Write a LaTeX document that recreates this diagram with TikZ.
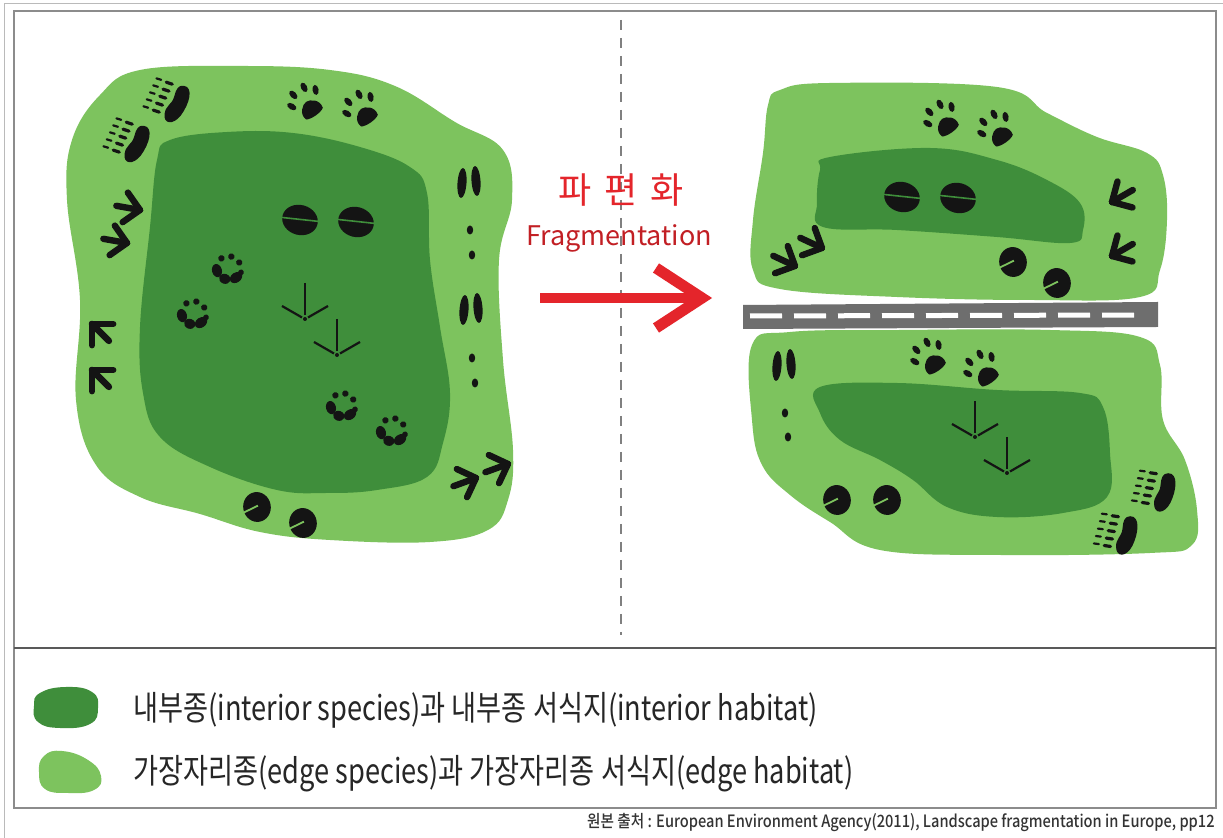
\documentclass[tikz,border=0pt]{standalone}
\usepackage{fontspec}
\newfontfamily\krfont{Noto Sans CJK KR}
\newfontfamily\krcond[FakeStretch=0.8]{Noto Sans CJK KR}
\newfontfamily\krsmall[FakeStretch=0.86]{Noto Sans CJK KR Medium}
\definecolor{edgegreen}{HTML}{7DC35E}
\definecolor{coregreen}{HTML}{3F8E3B}
\definecolor{trackink}{HTML}{141414}
\definecolor{alertred}{HTML}{E4252B}
\definecolor{roadgray}{HTML}{6E6E6E}
\definecolor{framegray}{HTML}{8C8C8C}

\tikzset{
  edgearea/.style={fill=edgegreen},
  corearea/.style={fill=coregreen},
  % dog / fox paw, toes pointing up
  pics/dogpaw/.style={code={
    \fill[trackink] (-7,9) .. controls (-9,3) and (-3,-1) .. (0,-1)
      .. controls (3,-1) and (9,3) .. (7,9) .. controls (4,11) and (-4,11) .. cycle;
    \fill[trackink,rotate around={25:(-10,-4)}] (-10,-4) ellipse [x radius=2.1, y radius=3.5];
    \fill[trackink,rotate around={8:(-4.5,-10)}] (-4.5,-10) ellipse [x radius=2.1, y radius=3.5];
    \fill[trackink,rotate around={-8:(4.5,-10)}] (4.5,-10) ellipse [x radius=2.1, y radius=3.5];
    \fill[trackink,rotate around={-25:(10,-4)}] (10,-4) ellipse [x radius=2.1, y radius=3.5];
  }},
  % bear paw: bean pad on the right, toe and claw marks on the left
  pics/bearpaw/.style={code={
    \fill[trackink] (6,-14) .. controls (13,-16) and (15,-4) .. (13,6)
      .. controls (11,15) and (4,17) .. (2,10) .. controls (0,4) and (4,2) .. (3,-4)
      .. controls (2,-9) and (2,-13) .. cycle;
    \foreach \k in {0,...,4}{
      \draw[trackink,line width=1.6pt,line cap=round] (-6.5,-11+5.5*\k) -- (-2,-11.5+5.5*\k);
      \draw[trackink,line width=1.1pt,line cap=round] (-14,-10.5+5.5*\k) -- (-10.5,-11+5.5*\k);
    }
  }},
  % split hoof of a deer
  pics/hoof/.style={code={
    \fill[trackink] (0,0) ellipse [x radius=15, y radius=12.5];
    \draw[#1,line width=0.8pt] (-16,2) -- (16,-3);
  }},
  % small round paw
  pics/roundpaw/.style={code={
    \fill[trackink,rotate around={35:(-7,3)}] (-7,3) ellipse [x radius=3.4, y radius=4.6];
    \fill[trackink] (0,6.5) ellipse [x radius=4, y radius=3.4];
    \fill[trackink,rotate around={-35:(7,3)}] (7,3) ellipse [x radius=3.4, y radius=4.6];
    \fill[trackink] (-7,-6) circle [radius=2.2];
    \fill[trackink] (-1,-9.5) circle [radius=2.2];
    \fill[trackink] (5.5,-7.5) circle [radius=2.2];
    \fill[trackink] (9,-1.5) circle [radius=2];
  }},
  % bird track, toes spreading upwards
  pics/birdtrack/.style={code={
    \draw[trackink,line width=1.1pt] (0,-36) -- (0,-4);
    \draw[trackink,line width=1.1pt] (-23,-13) -- (-3,-1.5);
    \draw[trackink,line width=1.1pt] (23,-13) -- (3,-1.5);
    \fill[trackink] (0,0) circle [radius=2];
  }},
  % three-toed track, tip pointing along +x
  pics/arrowtrack/.style={code={
    \draw[trackink,line width=3.2pt,line cap=round] (0,0) -- (-24,0);
    \draw[trackink,line width=3.2pt,line cap=round] (0,0) -- (-15,-15);
    \draw[trackink,line width=3.2pt,line cap=round] (0,0) -- (-15,15);
  }},
  % hare: two long prints side by side
  pics/harepair/.style={code={
    \fill[trackink,rotate around={-4:(-7,0)}] (-7,0) ellipse [x radius=4.5, y radius=15];
    \fill[trackink,rotate around={4:(7,-2)}] (7,-2) ellipse [x radius=4.5, y radius=15];
  }},
  pics/haredot/.style={code={
    \fill[trackink] (0,0) ellipse [x radius=3.2, y radius=4.5];
  }},
  % round hoof with a notch
  pics/cprint/.style={code={
    \fill[trackink] (0,0) ellipse [x radius=12, y radius=13];
    \draw[#1,line width=0.9pt] (-13,3) -- (1,-1);
  }},
}

\begin{document}
\begin{tikzpicture}[x=0.5pt,y=-0.5pt]
\useasboundingbox (0,0) rectangle (1223,838);
\fill[white] (0,0) rectangle (1223,838);

% frame
\draw[framegray!60,line width=0.5pt] (4,838) -- (4,4) -- (1223,4);
\draw[framegray,line width=1.2pt] (14,11) rectangle (1216,808);
\draw[black!65,line width=1pt] (14,648) -- (1216,648);
\draw[black!50,line width=1pt,dash pattern=on 5pt off 4pt] (621,20) -- (621,635);

% ---------------- before: one large patch ----------------
\fill[edgearea] plot[smooth cycle,tension=0.65] coordinates {
  (140,70) (240,66) (330,70) (395,86) (455,122) (503,150) (512,200) (499,260)
  (503,360) (513,450) (508,500) (488,530) (430,542) (330,540) (260,532)
  (200,514) (140,497) (96,465) (76,400) (80,300) (67,200) (72,140) (100,95)};
\fill[corearea] plot[smooth cycle,tension=0.65] coordinates {
  (170,140) (227,132) (293,133) (360,147) (410,167) (427,193) (430,260)
  (440,327) (450,393) (443,443) (427,477) (377,490) (327,493) (277,490)
  (210,467) (160,437) (143,393) (140,327) (150,227) (157,160)};

\pic[scale=1.4,rotate=-25] at (168,100) {bearpaw};
\pic[scale=1.4,rotate=-25] at (128,140) {bearpaw};
\pic[scale=1.45,rotate=35] at (307,103) {dogpaw};
\pic[scale=1.45,rotate=35] at (362,110) {dogpaw};
\pic[scale=1.2,rotate=-15] at (300,220) {hoof=coregreen};
\pic[scale=1.2,rotate=-15] at (356,222) {hoof=coregreen};
\pic[scale=1.45,rotate=-20] at (228,270) {roundpaw};
\pic[scale=1.45,rotate=-20] at (193,315) {roundpaw};
\pic[scale=1.45,rotate=-20] at (342,407) {roundpaw};
\pic[scale=1.45,rotate=-20] at (392,432) {roundpaw};
\pic at (305,319) {birdtrack};
\pic at (337,355) {birdtrack};
\pic[rotate=-10] at (140,210) {arrowtrack};
\pic[rotate=-10] at (127,243) {arrowtrack};
\pic[rotate=135] at (92,324) {arrowtrack};
\pic[rotate=135] at (92,370) {arrowtrack};
\pic[rotate=20] at (476,478) {arrowtrack};
\pic[rotate=20] at (508,464) {arrowtrack};
\pic at (469,183) {harepair};
\pic at (470,230) {haredot};
\pic at (472,255) {haredot};
\pic at (471,310) {harepair};
\pic at (472,358) {haredot};
\pic at (475,383) {haredot};
\pic[scale=1.15,rotate=10] at (257,507) {cprint=edgegreen};
\pic[scale=1.15,rotate=10] at (303,523) {cprint=edgegreen};

% ---------------- label and arrow ----------------
\node[text=alertred,font=\krfont\fontsize{18}{20}\selectfont] (kolabel) at (621,190) {파\hspace{0.35em}편\hspace{0.35em}화};
\node[text=alertred!85!black,font=\krfont\fontsize{13.5}{16}\selectfont] (enlabel) at (619,238) {Fragmentation};
\coordinate (arrowtail) at (540,298);
\coordinate (arrowtip) at (702,298);
\draw[alertred,line width=5pt] (arrowtail) -- ([xshift=-3pt]arrowtip);
\draw[alertred,line width=5.5pt,line join=miter] (656,268) -- (arrowtip) -- (656,328);

% ---------------- after: two patches split by a road ----------------
\fill[edgearea] plot[smooth cycle,tension=0.65] coordinates {
  (780,90) (830,83) (997,87) (1047,113) (1097,137) (1147,153) (1163,175)
  (1167,220) (1160,270) (1140,297) (1030,300) (897,297) (780,289) (753,270)
  (753,220) (763,153) (768,105)};
\fill[corearea] plot[smooth cycle,tension=0.65] coordinates {
  (830,157) (930,148) (997,160) (1047,180) (1080,203) (1083,230) (1070,243)
  (997,237) (897,230) (823,227) (817,203) (820,170)};

\fill[edgearea] plot[smooth cycle,tension=0.65] coordinates {
  (752,345) (790,332) (900,330) (1050,330) (1140,337) (1160,365) (1163,420)
  (1185,460) (1197,510) (1192,545) (1150,553) (1000,555) (880,550) (830,522)
  (790,495) (762,465) (752,420)};
\fill[corearea] plot[smooth cycle,tension=0.65] coordinates {
  (820,387) (897,383) (997,390) (1080,393) (1103,407) (1110,453) (1107,497)
  (1063,513) (997,517) (947,507) (913,480) (880,460) (840,440) (820,413)};

% road
\fill[roadgray] (743,305) -- (1158,302) -- (1158,327) -- (743,329) -- cycle;
\draw[white,line width=2.5pt,dash pattern=on 16pt off 6pt] (750,316) -- (1140,315);

% tracks, upper patch
\pic[scale=1.45,rotate=35] at (943,120) {dogpaw};
\pic[scale=1.45,rotate=35] at (997,130) {dogpaw};
\pic[scale=1.2,rotate=-15] at (902,197) {hoof=coregreen};
\pic[scale=1.2,rotate=-15] at (958,198) {hoof=coregreen};
\pic[rotate=-25] at (795,266) {arrowtrack};
\pic[rotate=-25] at (822,248) {arrowtrack};
\pic[rotate=210] at (1112,202) {arrowtrack};
\pic[rotate=210] at (1112,256) {arrowtrack};
\pic[scale=1.15,rotate=10] at (1013,262) {cprint=edgegreen};
\pic[scale=1.15,rotate=10] at (1057,283) {cprint=edgegreen};

% tracks, lower patch
\pic at (784,366) {harepair};
\pic at (785,413) {haredot};
\pic at (788,437) {haredot};
\pic[scale=1.45,rotate=35] at (930,358) {dogpaw};
\pic[scale=1.45,rotate=35] at (983,370) {dogpaw};
\pic at (975,437) {birdtrack};
\pic at (1007,473) {birdtrack};
\pic[scale=1.15,rotate=10] at (837,500) {cprint=edgegreen};
\pic[scale=1.15,rotate=10] at (887,500) {cprint=edgegreen};
\pic[scale=1.4,rotate=-15] at (1155,490) {bearpaw};
\pic[scale=1.4,rotate=-15] at (1117,533) {bearpaw};

% ---------------- legend ----------------
\fill[coregreen] plot[smooth cycle,tension=0.8] coordinates {
  (40,693) (66,687) (92,692) (98,708) (90,724) (60,728) (38,722) (34,706)};
\fill[edgegreen] plot[smooth cycle,tension=0.8] coordinates {
  (44,756) (62,751) (88,760) (101,776) (94,790) (68,793) (45,789) (39,772)};
\node[anchor=west,inner sep=0pt,font=\krcond\fontsize{17}{19}\selectfont,text=black!85] (legcore) at (133,710)
  {내부종(interior species)과 내부종 서식지(interior habitat)};
\node[anchor=west,inner sep=0pt,font=\krcond\fontsize{17}{19}\selectfont,text=black!85] (legedge) at (133,774)
  {가장자리종(edge species)과 가장자리종 서식지(edge habitat)};

% source line
\node[anchor=east,inner sep=0pt,font=\krsmall\fontsize{8.5}{10}\selectfont,text=black!80] (source) at (1215,823)
  {원본 출처 : European Environment Agency(2011), Landscape fragmentation in Europe, pp12};
\end{tikzpicture}
\end{document}
